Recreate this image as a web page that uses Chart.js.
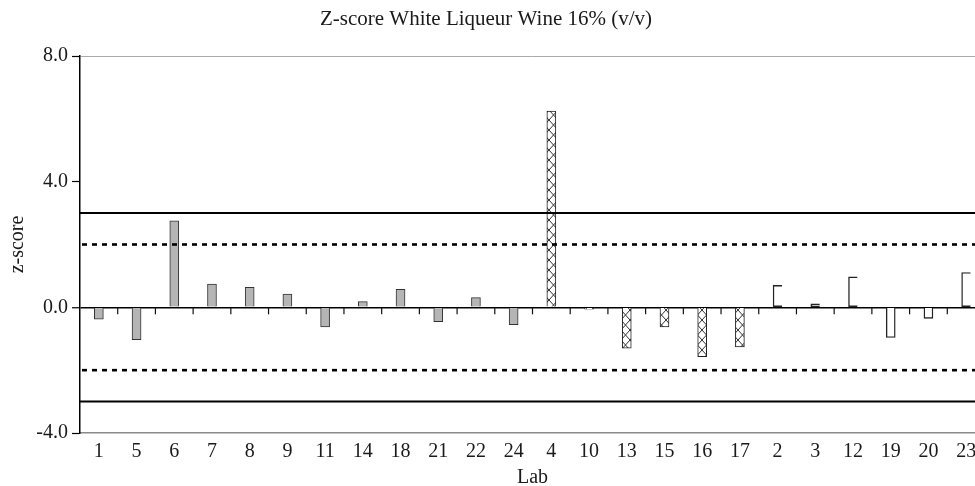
<!DOCTYPE html>
<html><head><meta charset="utf-8">
<script src="https://cdn.jsdelivr.net/npm/chart.js@4.4.1/dist/chart.umd.min.js"></script>
<style>
html,body{margin:0;padding:0;background:#fff;overflow:hidden}
#wrap{width:975px;height:486px;overflow:hidden;position:relative;background:#fff}
canvas{display:block}
</style></head>
<body><div id="wrap"><canvas id="c" width="990" height="486"></canvas></div>
<script>
// ---- data ----
const titleText = 'Z-score White Liqueur Wine 16% (v/v)';
const labsA = ['1','5','6','7','8','9','11','14','18','21','22','24'];
const scoresA = [-0.38, -1.03, 2.75, 0.74, 0.64, 0.42, -0.62, 0.18, 0.57, -0.46, 0.31, -0.55];
const labsB = ['4','10','13','15','16','17'];
const scoresB = [6.25, -0.06, -1.30, -0.62, -1.57, -1.26];
const labsC = ['2','3','12','19','20','23'];
const scoresC = [0.70, 0.11, 0.97, -0.96, -0.35, 1.11];
const labs = [...labsA, ...labsB, ...labsC];
const actionLimits = [3, -3];
const warningLimits = [2, -2];
const yMin = -4, yMax = 8, yStep = 4;

const FONT = 'Liberation Serif';
const canvas = document.getElementById('c');
const ctx0 = canvas.getContext('2d');

function makeHatch(){
  const w = 9, h = 10;
  const c = document.createElement('canvas'); c.width = w; c.height = h;
  const g = c.getContext('2d');
  g.fillStyle = '#fff'; g.fillRect(0,0,w,h);
  g.strokeStyle = '#333'; g.lineWidth = 1;
  g.beginPath();
  g.moveTo(0,0); g.lineTo(w,h);
  g.moveTo(w,0); g.lineTo(0,h);
  g.stroke();
  return ctx0.createPattern(c,'repeat');
}
const hatch = makeHatch();

const toPts = (lb, vals) => vals.map((v,i) => ({x: lb[i], y: v}));

const refPlugin = {
  id: 'refLines',
  afterLayout(chart){
    if (chart.titleBlock){ chart.titleBlock.left = 0; chart.titleBlock.right = 972; chart.titleBlock.width = 972; }
  },
  afterDatasetsDraw(chart){
    const {ctx, chartArea, scales:{x, y}} = chart;
    ctx.save();
    // ticks below the zero line, between categories
    const y0 = y.getPixelForValue(0);
    ctx.strokeStyle = '#111'; ctx.lineWidth = 1.2;
    for (let i = 1; i <= labs.length; i++){
      const xb = i < labs.length ? (x.getPixelForValue(i-1) + x.getPixelForValue(i)) / 2 : chartArea.right;
      ctx.beginPath(); ctx.moveTo(xb, y0); ctx.lineTo(xb, y0 + 7); ctx.stroke();
    }
    // action limits (solid)
    ctx.strokeStyle = '#000'; ctx.lineWidth = 2; ctx.setLineDash([]);
    actionLimits.forEach(v => {
      const p = y.getPixelForValue(v);
      ctx.beginPath(); ctx.moveTo(chartArea.left, p); ctx.lineTo(chartArea.right, p); ctx.stroke();
    });
    // warning limits (dotted)
    ctx.lineWidth = 2.6; ctx.setLineDash([5,5]);
    warningLimits.forEach(v => {
      const p = y.getPixelForValue(v);
      ctx.beginPath(); ctx.moveTo(chartArea.left + 2, p); ctx.lineTo(chartArea.right, p); ctx.stroke();
    });
    ctx.restore();
  }
};

new Chart(canvas, {
  type: 'bar',
  data: {
    labels: labs,
    datasets: [
      {data: toPts(labsA, scoresA), backgroundColor: '#b5b5b5', borderColor: '#333', borderWidth: 1, barThickness: 9, grouped: false},
      {data: toPts(labsB, scoresB), backgroundColor: hatch, borderColor: '#222', borderWidth: 1, barThickness: 9, grouped: false},
      {data: toPts(labsC, scoresC), backgroundColor: '#fff', borderColor: '#222', borderWidth: 1.4, barThickness: 9, grouped: false,
       borderSkipped: c => (c.raw && c.raw.y > 0) ? 'right' : 'start'}
    ]
  },
  options: {
    responsive: false,
    devicePixelRatio: 1,
    animation: false,
    layout: {padding: {left: 0, right: 5, top: 0, bottom: 0}},
    plugins: {
      legend: {display: false},
      tooltip: {enabled: false},
      title: {display: true, text: titleText, color: '#1a1a1a',
        font: {family: FONT, size: 21, weight: 'normal', lineHeight: 1.2},
        padding: {top: 7, bottom: 23.8}}
    },
    scales: {
      x: {
        type: 'category',
        offset: true,
        grid: {display: true, color: 'rgba(0,0,0,0)', drawTicks: false, drawOnChartArea: false},
        border: {display: true, color: '#8a8a8a', width: 1.5},
        ticks: {font: {family: FONT, size: 20}, color: '#1a1a1a', padding: 7, autoSkip: false, maxRotation: 0},
        title: {display: true, text: 'Lab', color: '#1a1a1a', font: {family: FONT, size: 20, lineHeight: 1}, padding: {top: 0, bottom: -2}},
        afterFit: s => { s.height = 53; }
      },
      y: {
        min: yMin, max: yMax,
        grid: {
          color: c => c.tick.value === 0 ? '#000' : (c.tick.value === yMax ? '#aaa' : 'rgba(0,0,0,0)'),
          lineWidth: c => c.tick.value === 0 ? 1.5 : 1,
          tickColor: '#000', tickWidth: 1.2, tickLength: 8, drawTicks: true
        },
        border: {display: true, color: '#000', width: 1.5},
        ticks: {stepSize: yStep, callback: v => Number(v).toFixed(1), font: {family: FONT, size: 20}, color: '#1a1a1a', padding: 4},
        title: {display: true, text: 'z-score', color: '#1a1a1a', font: {family: FONT, size: 20, lineHeight: 1}, padding: {top: 8, bottom: 0}},
        afterFit: s => { s.width = 80; }
      }
    }
  },
  plugins: [refPlugin]
});
</script></body></html>
